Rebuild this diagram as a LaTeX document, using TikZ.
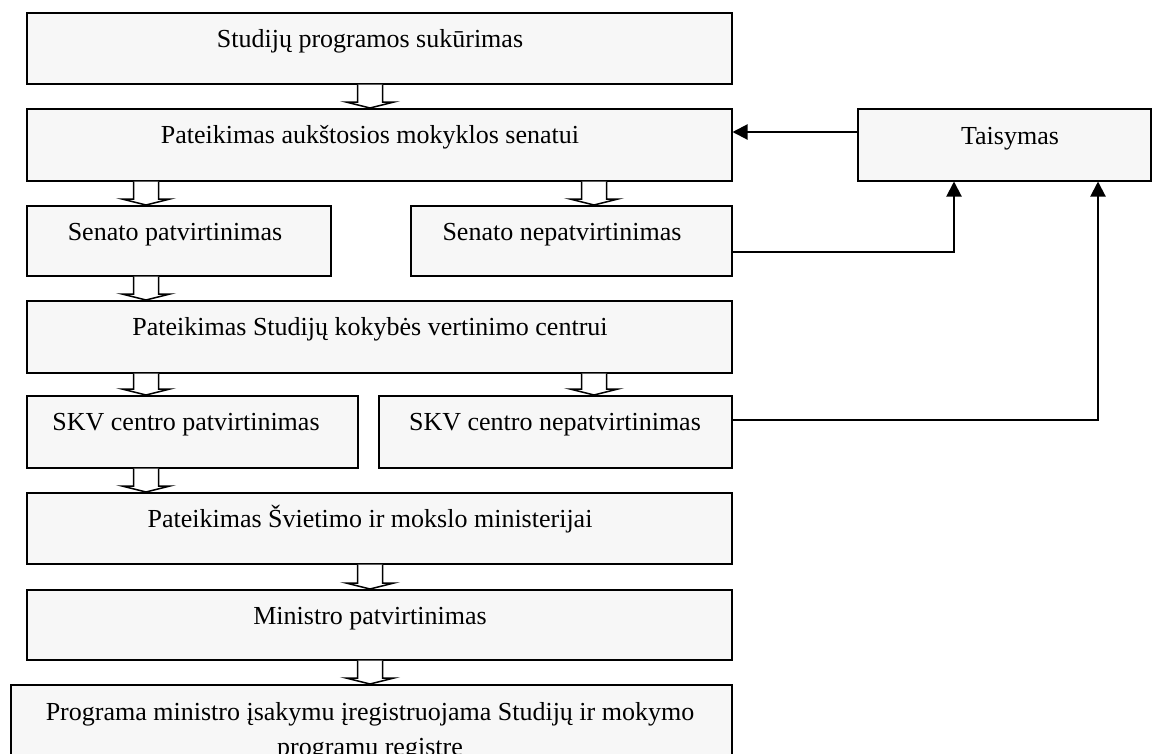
\documentclass[tikz,border=0pt]{standalone}
\usepackage{fontspec}
\setmainfont{Liberation Serif}
\usetikzlibrary{calc,arrows.meta}
\definecolor{boxfill}{HTML}{F7F7F7}
\tikzset{
  box/.style={draw=black, line width=1.5pt, fill=boxfill, anchor=north west, inner sep=0pt},
  txt/.style={anchor=base, inner sep=0pt, font=\fontsize{26}{28}\selectfont, align=center},
  conn/.style={draw=black, line width=2pt, -{Triangle[length=15pt,width=15pt]}},
  barrow/.style={draw=black, line width=1.5pt, fill=white, line join=miter}
}
\newcommand\blockarr[3]{% x, upper node, lower node
  \path (#2.south -| #1,0) coordinate (bp) (#3.north -| #1,0) coordinate (bq);
  \draw[barrow] ($(bp)+(-12.5,0)$) -- ($(bq)+(-12.5,-6)$) -- ($(bq)+(-24,-6)$) -- (bq)
     -- ($(bq)+(24,-6)$) -- ($(bq)+(12.5,-6)$) -- ($(bp)+(12.5,0)$);
}
\begin{document}
\begin{tikzpicture}[x=1pt,y=-1pt]
\useasboundingbox (0,0) rectangle (1154,753);
\clip (0,0) rectangle (1154,753);
% boxes
\node[box, minimum width=705pt, minimum height=71pt] (b1) at (26,12) {};
\node[box, minimum width=705pt, minimum height=72pt] (b2) at (26,108) {};
\node[box, minimum width=293pt, minimum height=72pt] (t) at (857,108) {};
\node[box, minimum width=304pt, minimum height=70pt] (b3) at (26,205) {};
\node[box, minimum width=321pt, minimum height=70pt] (b4) at (410,205) {};
\node[box, minimum width=705pt, minimum height=72pt] (b5) at (26,300) {};
\node[box, minimum width=331pt, minimum height=72pt] (b6) at (26,395) {};
\node[box, minimum width=353pt, minimum height=72pt] (b7) at (378,395) {};
\node[box, minimum width=705pt, minimum height=71pt] (b8) at (26,492) {};
\node[box, minimum width=705pt, minimum height=70pt] (b9) at (26,589) {};
\node[box, minimum width=721pt, minimum height=100pt] (b10) at (10,684) {};
% texts
\node[txt] (t1) at (370,47) {Studijų programos sukūrimas};
\node[txt] (t2) at (370,143) {Pateikimas aukštosios mokyklos senatui};
\node[txt] (tt) at (1010,144) {Taisymas};
\node[txt] (t3) at (175,240) {Senato patvirtinimas};
\node[txt] (t4) at (562,240) {Senato nepatvirtinimas};
\node[txt] (t5) at (370,335) {Pateikimas Studijų kokybės vertinimo centrui};
\node[txt] (t6) at (186,430) {SKV centro patvirtinimas};
\node[txt] (t7) at (555,430) {SKV centro nepatvirtinimas};
\node[txt] (t8) at (370,527) {Pateikimas Švietimo ir mokslo ministerijai};
\node[txt] (t9) at (370,624) {Ministro patvirtinimas};
\node[txt] (t10a) at (370,720) {Programa ministro įsakymu įregistruojama Studijų ir mokymo};
\node[txt] (t10b) at (370,755) {programų registre};
% block arrows
\blockarr{370}{b1}{b2}
\blockarr{146}{b2}{b3}
\blockarr{594}{b2}{b4}
\blockarr{146}{b3}{b5}
\blockarr{146}{b5}{b6}
\blockarr{594}{b5}{b7}
\blockarr{146}{b6}{b8}
\blockarr{370}{b8}{b9}
\blockarr{370}{b9}{b10}
% connectors
\coordinate (c1) at (954,252);
\coordinate (c2) at (1098,420);
\draw[conn] ([yshift=12pt]t.west) -- (t.west |- 0,132) -- (b2.east |- 0,132);
\draw[conn] (b4.east |- c1) -- (c1) -- (c1 |- t.south);
\draw[conn] (b7.east |- c2) -- (c2) -- (c2 |- t.south);
\end{tikzpicture}
\end{document}
